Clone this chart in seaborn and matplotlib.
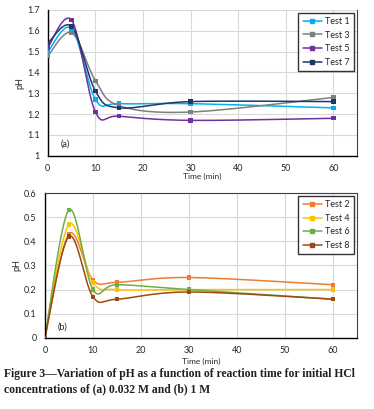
import numpy as np
import pandas as pd
import matplotlib
matplotlib.use("Agg")
import matplotlib.pyplot as plt
import seaborn as sns

# Data
time_min = [0, 5, 10, 15, 30, 60]

# (a) 0.032 M HCl
test1 = [1.50, 1.61, 1.27, 1.25, 1.25, 1.23]
test3 = [1.48, 1.59, 1.36, 1.24, 1.21, 1.28]
test5 = [1.52, 1.65, 1.21, 1.19, 1.17, 1.18]
test7 = [1.54, 1.62, 1.31, 1.23, 1.26, 1.26]

# (b) 1 M HCl
test2 = [0, 0.43, 0.24, 0.23, 0.25, 0.22]
test4 = [0, 0.47, 0.23, 0.20, 0.20, 0.20]
test6 = [0, 0.53, 0.20, 0.22, 0.20, 0.16]
test8 = [0, 0.42, 0.17, 0.16, 0.19, 0.16]

series_a = {"Test 1": test1, "Test 3": test3, "Test 5": test5, "Test 7": test7}
series_b = {"Test 2": test2, "Test 4": test4, "Test 6": test6, "Test 8": test8}
colors_a = {"Test 1": "#00B0F0", "Test 3": "#7F7F7F", "Test 5": "#7030A0", "Test 7": "#203864"}
colors_b = {"Test 2": "#ED7D31", "Test 4": "#FFC000", "Test 6": "#70AD47", "Test 8": "#9C4A12"}


def smooth(x, y, n=30):
    # Excel-like smoothed line (Catmull-Rom bezier through the points)
    x = np.asarray(x, float)
    y = np.asarray(y, float)
    px = np.concatenate([[x[0]], x, [x[-1]]])
    py = np.concatenate([[y[0]], y, [y[-1]]])
    xs, ys = [], []
    t = np.linspace(0, 1, n)
    for i in range(1, len(px) - 2):
        p0 = np.array([px[i], py[i]])
        p3 = np.array([px[i + 1], py[i + 1]])
        c1 = p0 + (np.array([px[i + 1], py[i + 1]]) - np.array([px[i - 1], py[i - 1]])) / 6
        c2 = p3 - (np.array([px[i + 2], py[i + 2]]) - np.array([px[i], py[i]])) / 6
        b = ((1 - t) ** 3)[:, None] * p0 + (3 * (1 - t) ** 2 * t)[:, None] * c1 \
            + (3 * (1 - t) * t ** 2)[:, None] * c2 + (t ** 3)[:, None] * p3
        xs.extend(b[:, 0])
        ys.extend(b[:, 1])
    return xs, ys


sns.set_style("white")
plt.rcParams["font.family"] = ["Lato", "DejaVu Sans"]

fig = plt.figure(figsize=(3.74, 4.09), dpi=100)
ax_a = fig.add_axes([0.128, 0.619, 0.827, 0.357])
ax_b = fig.add_axes([0.120, 0.174, 0.835, 0.354])


def draw(ax, series, colors, ylim, yticks, ylabels, tag):
    curves = []
    points = []
    for name, vals in series.items():
        sx, sy = smooth(time_min, vals)
        curves.append(pd.DataFrame({"t": sx, "pH": sy, "test": name}))
        points.append(pd.DataFrame({"t": time_min, "pH": vals, "test": name}))
    curves = pd.concat(curves)
    points = pd.concat(points)
    sns.lineplot(data=curves, x="t", y="pH", hue="test", palette=colors,
                 sort=False, estimator=None, lw=1.1, ax=ax, legend=False)
    sns.scatterplot(data=points, x="t", y="pH", hue="test", palette=colors,
                    s=10, marker="s", edgecolor="none", ax=ax, legend=False, zorder=3)
    handles = [plt.Line2D([], [], color=colors[n], lw=1.1, marker="s", markersize=2.5)
               for n in series]
    leg = ax.legend(handles, list(series), loc="upper right", fontsize=6.5,
                    frameon=True, fancybox=False, edgecolor="black",
                    borderpad=0.45, handlelength=2.2, handletextpad=0.3,
                    labelspacing=0.5, borderaxespad=0.2,
                    bbox_to_anchor=(0.995, 0.99))
    leg.get_frame().set_linewidth(1.0)
    ax.set_xlim(0, 65)
    ax.set_ylim(*ylim)
    ax.set_xticks([0, 10, 20, 30, 40, 50, 60])
    ax.set_yticks(yticks)
    ax.set_yticklabels(ylabels)
    ax.grid(True, color="#D9D9D9", lw=0.8)
    ax.set_axisbelow(True)
    ax.tick_params(labelsize=6.5, length=0, pad=6)
    ax.set_xlabel("Time (min)", fontsize=6)
    ax.set_ylabel("pH", fontsize=6.5, labelpad=2)
    for s in ["left", "bottom"]:
        ax.spines[s].set_color("black")
        ax.spines[s].set_linewidth(1.0)
    for s in ["top", "right"]:
        ax.spines[s].set_color("#404040")
        ax.spines[s].set_linewidth(0.8)
    ax.text(0.04, 0.06, tag, transform=ax.transAxes, fontsize=6.5)


draw(ax_a, series_a, colors_a, (1, 1.7),
     [1, 1.1, 1.2, 1.3, 1.4, 1.5, 1.6, 1.7],
     ["1", "1.1", "1.2", "1.3", "1.4", "1.5", "1.6", "1.7"], "(a)")
ax_a.spines["top"].set_visible(False)
ax_a.xaxis.labelpad = 0
draw(ax_b, series_b, colors_b, (0, 0.6),
     [0, 0.1, 0.2, 0.3, 0.4, 0.5, 0.6],
     ["0", "0.1", "0.2", "0.3", "0.4", "0.5", "0.6"], "(b)")
ax_b.xaxis.labelpad = 2

fig.text(0.01, 0.067, "Figure 3\u2014Variation of pH as a function of reaction time for initial HCl\n"
         "concentrations of (a) 0.032 M and (b) 1 M",
         fontsize=8.4, family=["Liberation Serif", "DejaVu Serif"], weight="bold",
         color="#231F20", va="center", linespacing=1.3)

fig.savefig("out.png", dpi=100)
